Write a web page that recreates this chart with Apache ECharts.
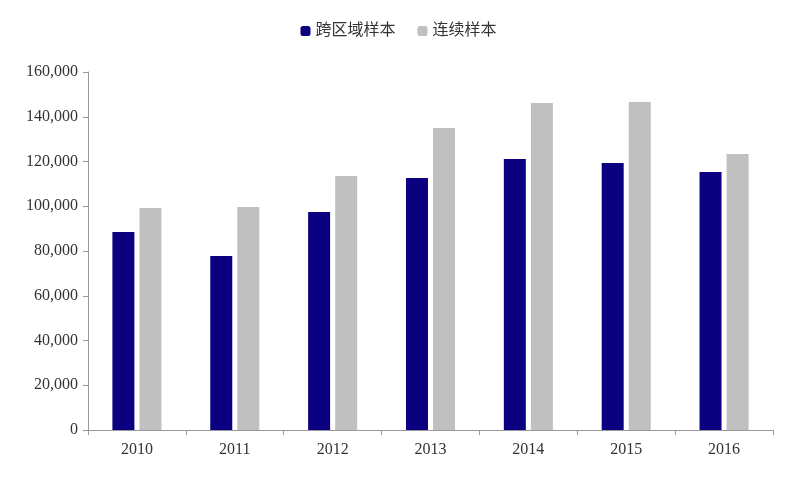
<!DOCTYPE html>
<html><head><meta charset="utf-8">
<script src="https://cdn.jsdelivr.net/npm/echarts@6/dist/echarts.min.js"></script>
<style>body{margin:0}#c{width:797px;height:478px}</style></head>
<body><div id="c"></div>
<script>
const categories=['2010','2011','2012','2013','2014','2015','2016'];
const crossRegion=[88500,77800,97400,112600,121100,119300,115300];
const continuous=[99200,99700,113500,135000,146100,146600,123300];
const seriesNames=['跨区域样本','连续样本'];
const chart=echarts.init(document.getElementById('c'));
const font='"Liberation Serif","Noto Sans CJK SC",serif';
chart.setOption({
 animation:false,
 textStyle:{fontFamily:font},
 legend:{top:18,left:'center',itemWidth:10,itemHeight:10,itemGap:22,
  textStyle:{fontSize:16,color:'#333',fontFamily:font},data:seriesNames},
 grid:{left:88,right:24,top:72,bottom:48},
 xAxis:{type:'category',data:categories,
  axisLine:{lineStyle:{color:'#999'}},
  axisTick:{show:true,lineStyle:{color:'#999'}},
  axisLabel:{fontSize:16,color:'#333',margin:12}},
 yAxis:{type:'value',min:0,max:160000,interval:20000,
  axisLine:{show:true,lineStyle:{color:'#999'}},
  axisTick:{show:true,lineStyle:{color:'#999'}},
  splitLine:{show:false},
  axisLabel:{fontSize:16,color:'#333',margin:10}},
 series:[
  {name:seriesNames[0],type:'bar',data:crossRegion,barWidth:22,barGap:'23%',itemStyle:{color:'#0b0080'}},
  {name:seriesNames[1],type:'bar',data:continuous,barWidth:22,itemStyle:{color:'#c0c0c0'}}
 ]
});
</script></body></html>
